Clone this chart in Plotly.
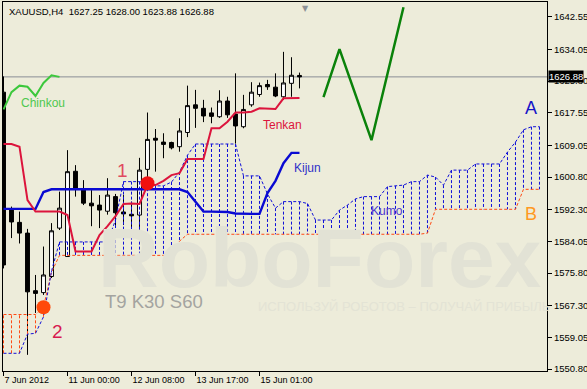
import plotly.graph_objects as go

# ---------------- data ----------------
title_text = "XAUUSD,H4\u00a0 1627.25 1628.00 1623.88 1626.88"

bars = list(range(38))
open_ = [1622.9, 1592.2, 1589.0, 1586.2, 1571.2, 1570.7, 1574.9, 1587.5, 1580.1, 1602.3,
         1597.4, 1594.0, 1593.5, 1591.9, 1595.7, 1591.7, 1591.1, 1590.9, 1602.8, 1610.9,
         1609.9, 1609.8, 1608.7, 1612.4, 1619.6, 1618.7, 1617.5, 1616.5, 1620.6, 1617.2,
         1613.9, 1619.6, 1622.3, 1624.9, 1624.2, 1621.7, 1625.2, 1627.25]
high = [1627.0, 1593.1, 1591.8, 1587.3, 1575.3, 1582.7, 1588.8, 1597.0, 1607.8, 1603.9,
        1600.0, 1597.4, 1596.1, 1600.5, 1596.4, 1596.1, 1594.4, 1605.8, 1617.6, 1613.3,
        1612.2, 1610.0, 1616.1, 1624.6, 1623.5, 1620.9, 1618.9, 1623.4, 1621.7, 1627.8,
        1622.2, 1625.5, 1625.4, 1626.1, 1627.8, 1633.4, 1632.0, 1628.00]
low = [1577.0, 1584.9, 1583.5, 1554.5, 1565.4, 1570.1, 1574.5, 1587.0, 1580.0, 1595.7,
       1593.5, 1588.0, 1587.5, 1591.0, 1587.9, 1588.3, 1585.7, 1587.0, 1599.2, 1602.2,
       1605.7, 1608.0, 1607.4, 1611.2, 1613.6, 1615.1, 1614.8, 1616.2, 1616.2, 1609.5,
       1613.5, 1619.1, 1621.7, 1623.5, 1621.6, 1620.9, 1621.7, 1623.88]
close = [1577.9, 1589.1, 1586.2, 1570.9, 1570.5, 1575.3, 1586.8, 1592.7, 1602.2, 1597.9,
         1594.0, 1593.3, 1592.2, 1596.1, 1591.5, 1591.2, 1590.7, 1602.6, 1610.6, 1610.4,
         1609.3, 1608.4, 1612.8, 1619.4, 1618.7, 1616.7, 1616.6, 1620.6, 1617.0, 1614.1,
         1618.4, 1622.9, 1624.6, 1624.3, 1621.9, 1625.3, 1627.3, 1626.88]

tenkan = [1609.4, 1609.4, 1608.7, 1594.8, 1591.8, 1591.8, 1591.8, 1591.8, 1590.9, 1581.4,
          1581.4, 1581.4, 1585.7, 1588.0, 1590.6, 1593.8, 1593.9, 1593.8, 1598.7, 1598.7,
          1599.8, 1601.3, 1601.8, 1605.5, 1605.5, 1605.5, 1613.5, 1613.5, 1615.2, 1617.6,
          1617.6, 1617.8, 1618.7, 1618.6, 1618.5, 1621.3, 1621.4, 1621.4]
kijun = [1592.5, 1592.5, 1592.5, 1592.5, 1592.5, 1596.9, 1597.6, 1597.6, 1597.6, 1597.6,
         1597.6, 1597.6, 1597.6, 1597.6, 1597.6, 1597.6, 1597.6, 1597.6, 1597.6, 1597.6,
         1597.6, 1597.6, 1597.6, 1596.9, 1594.4, 1591.8, 1591.8, 1591.8, 1591.7, 1591.3,
         1591.2, 1591.2, 1591.2, 1596.6, 1599.8, 1604.4, 1607.1, 1607.1]

cloud_bars = list(range(68))
span_a = [1554.9, 1554.9, 1554.9, 1559.9, 1560.1, 1564.4, 1576.3, 1583.9, 1583.9, 1583.9,
          1583.9, 1583.9, 1583.9, 1583.9, 1589.6, 1599.6, 1599.6, 1599.6, 1599.2, 1598.5,
          1598.5, 1599.5, 1602.1, 1606.5, 1609.4, 1609.4, 1609.4, 1609.4, 1609.4, 1609.4,
          1601.1, 1601.1, 1601.1, 1596.4, 1592.7, 1594.4, 1594.4, 1594.4, 1593.9, 1589.6,
          1589.6, 1589.6, 1592.2, 1593.5, 1595.1, 1595.7, 1595.7, 1595.7, 1598.3, 1598.5,
          1598.7, 1599.6, 1599.6, 1601.3, 1600.8, 1598.7, 1602.6, 1602.6, 1602.6, 1604.2,
          1604.2, 1604.2, 1604.2, 1607.3, 1609.9, 1613.1, 1613.9, 1613.9]
span_b = [1565.0, 1565.0, 1565.0, 1565.0, 1565.0, 1567.0, 1576.0, 1580.4, 1580.4, 1580.4,
          1580.4, 1580.4, 1580.4, 1580.4, 1580.4, 1580.4, 1580.4, 1580.4, 1580.4, 1580.4,
          1580.4, 1580.4, 1584.1, 1585.9, 1585.9, 1585.9, 1585.9, 1585.9, 1585.9, 1585.9,
          1585.9, 1585.9, 1585.9, 1585.9, 1585.9, 1585.9, 1585.9, 1585.9, 1585.9, 1585.9,
          1585.9, 1585.9, 1585.9, 1585.9, 1585.9, 1585.9, 1585.9, 1585.9, 1585.9, 1585.9,
          1585.9, 1585.9, 1585.9, 1586.2, 1592.4, 1592.4, 1592.4, 1592.4, 1592.4, 1592.4,
          1592.4, 1592.4, 1592.4, 1592.4, 1592.4, 1597.6, 1597.6, 1597.6]

chinkou_shift = 30

forecast_x = [40, 42, 46, 50]
forecast_y = [1621.6, 1634.1, 1610.4, 1645.0]

signal_x = [18, 5]
signal_y = [1599.2, 1566.9]
signal_colors = ["#F01010", "#FF4A0A"]

date_ticks = [0, 8, 16, 24, 32]
date_labels = ["7 Jun 2012", "11 Jun 00:00", "12 Jun 08:00", "13 Jun 17:00", "15 Jun 01:00"]

price_ticks = [1642.55, 1634.05, 1625.80, 1617.55, 1609.05, 1600.80,
               1592.30, 1584.05, 1575.80, 1567.30, 1559.05, 1550.80]
price_labels = ["%.2f" % v for v in price_ticks]

# ---------------- styling ----------------
BG = "#EDECDA"
FONT = "Liberation Sans"
BLUE_DASH = "#1010D8"
ORANGE_DASH = "#FF4A14"

fig = go.Figure()

# Kumo hatching (vertical lines between span A and span B)
bx, by, ox, oy = [], [], [], []
for i, a, b in zip(cloud_bars, span_a, span_b):
    if a >= b:
        bx += [i, i, None]; by += [a, b, None]
    else:
        ox += [i, i, None]; oy += [a, b, None]
fig.add_trace(go.Scatter(x=bx, y=by, mode="lines", hoverinfo="skip",
                         line=dict(color=BLUE_DASH, width=1, dash="3px,2px")))
fig.add_trace(go.Scatter(x=ox, y=oy, mode="lines", hoverinfo="skip",
                         line=dict(color=ORANGE_DASH, width=1, dash="3px,2px")))
fig.add_trace(go.Scatter(x=cloud_bars, y=span_b, mode="lines", hoverinfo="skip",
                         line=dict(color=ORANGE_DASH, width=1, dash="3px,2px")))
fig.add_trace(go.Scatter(x=cloud_bars, y=span_a, mode="lines", hoverinfo="skip",
                         line=dict(color=BLUE_DASH, width=1, dash="3px,2px")))

# Kijun / Tenkan
fig.add_trace(go.Scatter(x=bars, y=kijun, mode="lines", hoverinfo="skip",
                         line=dict(color="#0A0AD2", width=2.4)))
fig.add_trace(go.Scatter(x=bars, y=tenkan, mode="lines", hoverinfo="skip",
                         line=dict(color="#DC143C", width=2)))

# Candles
fig.add_trace(go.Candlestick(
    x=bars, open=open_, high=high, low=low, close=close,
    increasing=dict(line=dict(color="black", width=1), fillcolor="white"),
    decreasing=dict(line=dict(color="black", width=1), fillcolor="black"),
    whiskerwidth=0, hoverinfo="skip"))

# Chinkou (close shifted back)
fig.add_trace(go.Scatter(x=bars[:len(close) - chinkou_shift], y=close[chinkou_shift:],
                         mode="lines", hoverinfo="skip",
                         line=dict(color="#3CC83C", width=2)))

# Forecast path
fig.add_trace(go.Scatter(x=forecast_x, y=forecast_y, mode="lines", hoverinfo="skip",
                         line=dict(color="#0A820A", width=2.5)))

# Signal circles
fig.add_trace(go.Scatter(x=signal_x, y=signal_y, mode="markers", hoverinfo="skip",
                         marker=dict(size=14, color=signal_colors, line=dict(width=0))))

annotations = [
    dict(text=title_text, xref="paper", yref="paper", x=0.0074, y=0.9756,
         xanchor="left", yanchor="middle", showarrow=False,
         font=dict(family=FONT, size=9.5, color="black")),
    dict(text="<b>RoboForex</b>", x=39.6, y=1579.7, showarrow=False,
         font=dict(family=FONT, size=84, color="#E2E2D5")),
    dict(text="ИСПОЛЬЗУЙ РОБОТОВ – ПОЛУЧАЙ ПРИБЫЛЬ", x=50.1, y=1567.2, showarrow=False,
         font=dict(family=FONT, size=13, color="#E3E3D5")),
    dict(text="T9 K30 S60", x=18.8, y=1568.3, showarrow=False,
         font=dict(family=FONT, size=18.5, color="#A4A4A0")),
    dict(text="Chinkou", x=4.96, y=1620.1, showarrow=False,
         font=dict(family=FONT, size=12, color="#4FC84F")),
    dict(text="Tenkan", x=34.9, y=1614.35, showarrow=False,
         font=dict(family=FONT, size=12, color="#DC143C")),
    dict(text="Kijun", x=37.94, y=1603.15, showarrow=False,
         font=dict(family=FONT, size=12, color="#3030C8")),
    dict(text="Kumo", x=47.9, y=1591.96, showarrow=False,
         font=dict(family=FONT, size=12, color="#4A36D0")),
    dict(text="A", x=65.94, y=1618.65, showarrow=False,
         font=dict(family=FONT, size=18, color="#1515C8")),
    dict(text="B", x=65.94, y=1591.2, showarrow=False,
         font=dict(family=FONT, size=18, color="#FF9922")),
    dict(text="1", x=14.9, y=1602.6, showarrow=False,
         font=dict(family=FONT, size=19, color="#E04A60")),
    dict(text="2", x=6.8, y=1560.6, showarrow=False,
         font=dict(family=FONT, size=19, color="#D81B50")),
    dict(text="▼", x=37.8, xref="x", yref="paper", y=1.0, yanchor="top",
         showarrow=False, font=dict(family="DejaVu Sans", size=8, color="#8C9196")),
    dict(text="%.2f" % close[-1], xref="paper", x=1.0, xanchor="left", xshift=1,
         y=close[-1], yanchor="middle", showarrow=False, bgcolor="black", borderpad=0,
         font=dict(family=FONT, size=9.5, color="white")),
]

fig.update_layout(
    width=587, height=389,
    margin=dict(l=3, r=40, t=2, b=18, autoexpand=False),
    paper_bgcolor=BG, plot_bgcolor=BG,
    showlegend=False,
    annotations=annotations,
    shapes=[dict(type="line", xref="paper", x0=0, x1=1, y0=close[-1], y1=close[-1],
                 line=dict(color="#8A8E96", width=1), layer="below")],
    xaxis=dict(range=[-0.0625, 67.94], showgrid=False, zeroline=False,
               rangeslider=dict(visible=False),
               showline=True, linecolor="black", linewidth=1, mirror=True,
               ticks="outside", ticklen=4, tickcolor="black",
               tickvals=date_ticks, ticktext=date_labels,
               ticklabelposition="outside right",
               tickfont=dict(family=FONT, size=9, color="black")),
    yaxis=dict(range=[1550.29, 1646.38], side="right", showgrid=False, zeroline=False,
               showline=True, linecolor="black", linewidth=1, mirror=True,
               ticks="outside", ticklen=4, tickcolor="black",
               tickvals=price_ticks, ticktext=price_labels,
               tickfont=dict(family=FONT, size=9.5, color="black")),
)

fig.write_html("out.html")
